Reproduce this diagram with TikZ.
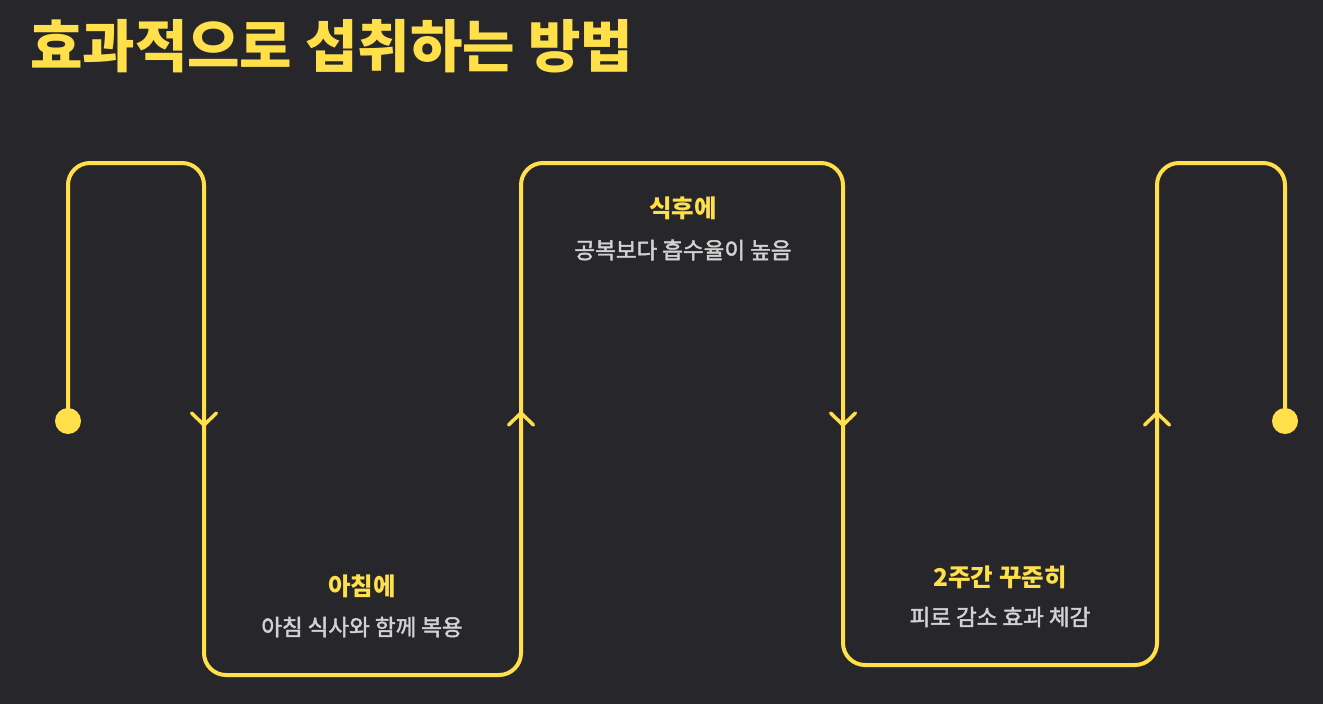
\documentclass[tikz,border=0pt]{standalone}
\usepackage{fontspec}
\newfontfamily\krfont{Noto Sans CJK KR}
\newfontfamily\krmedium[FakeBold=2]{Noto Sans CJK KR}
\usetikzlibrary{calc}
\definecolor{bgdark}{HTML}{27272B}
\definecolor{lineyellow}{HTML}{FFDF4A}
\definecolor{subgray}{HTML}{D2D2D2}

\begin{document}
\begin{tikzpicture}[x=1pt, y=-1pt,
  snake/.style={lineyellow, line width=4pt, rounded corners=22pt,
                line cap=round, line join=round},
  chev/.style={lineyellow, line width=3.5pt, line cap=round, line join=round},
  titletxt/.style={font=\krfont\bfseries\fontsize{57}{64}\selectfont,
                   text=lineyellow, inner sep=0pt},
  head/.style={font=\krfont\bfseries\fontsize{24.5}{28}\selectfont,
               text=lineyellow, inner sep=0pt},
  note/.style={font=\krmedium\fontsize{22.5}{26}\selectfont,
               text=subgray, inner sep=0pt},
]
  %% ── Background and frame ────────────────────────────────────────────────
  \fill[bgdark] (0,0) rectangle (1323,704);
  \useasboundingbox (0,0) rectangle (1323,704);

  %% ── Title ───────────────────────────────────────────────────────────────
  \node[titletxt, anchor=west] (ttl) at (30,46) {효과적으로 섭취하는 방법};

  %% ── Turning points of the path ──────────────────────────────────────────
  \coordinate (start) at (68,421);
  \coordinate (p1) at (68,163);   \coordinate (p2) at (204,163);
  \coordinate (p3) at (204,675);  \coordinate (p4) at (521,675);
  \coordinate (p5) at (521,163);  \coordinate (p6) at (843,163);
  \coordinate (p7) at (843,665);  \coordinate (p8) at (1157,665);
  \coordinate (p9) at (1157,163); \coordinate (p10) at (1285,163);
  \coordinate (stop) at (1285,421);

  %% ── Direction marks ─────────────────────────────────────────────────────
  \coordinate (m1) at (204,425);
  \coordinate (m2) at (521,413);
  \coordinate (m3) at (843,425);
  \coordinate (m4) at (1157,413);

  %% ── The path ────────────────────────────────────────────────────────────
  \draw[snake] (start) -- (p1) -- (p2) -- (p3) -- (p4) -- (p5) -- (p6)
               -- (p7) -- (p8) -- (p9) -- (p10) -- (stop);
  \fill[lineyellow] (start) circle (13pt);
  \fill[lineyellow] (stop)  circle (13pt);

  \draw[chev] ($(m1)+(-12.5,-12)$) -- (m1) -- ($(m1)+(12.5,-12)$);
  \draw[chev] ($(m2)+(-12.5,12)$)  -- (m2) -- ($(m2)+(12.5,12)$);
  \draw[chev] ($(m3)+(-12.5,-12)$) -- (m3) -- ($(m3)+(12.5,-12)$);
  \draw[chev] ($(m4)+(-12.5,12)$)  -- (m4) -- ($(m4)+(12.5,12)$);

  %% ── Step labels ─────────────────────────────────────────────────────────
  \node[head] (h1) at (362,586)  {아침에};
  \node[note] (n1) at (362,627)  {아침 식사와 함께 복용};
  \node[head] (h2) at (683,208)  {식후에};
  \node[note] (n2) at (683,250)  {공복보다 흡수율이 높음};
  \node[head] (h3) at (1000,577) {2주간 꾸준히};
  \node[note] (n3) at (1000,617) {피로 감소 효과 체감};

\end{tikzpicture}
\end{document}
